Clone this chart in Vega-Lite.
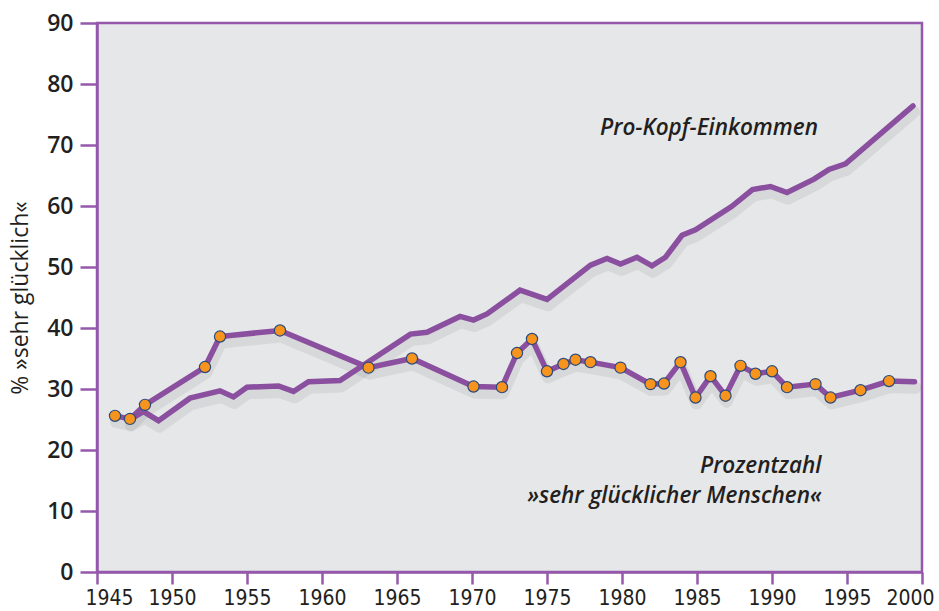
{
  "$schema": "https://vega.github.io/schema/vega-lite/v6.json",
  "width": 825,
  "height": 549,
  "autosize": {"type": "none"},
  "padding": {"left": 97, "top": 23, "right": 17, "bottom": 39},
  "background": "#ffffff",
  "config": {
    "view": {"fill": "#e6e7e9", "stroke": "#9558ab", "strokeWidth": 2.5},
    "axis": {
      "grid": false,
      "domainColor": "#9558ab",
      "domainWidth": 2.5,
      "tickColor": "#9558ab",
      "tickWidth": 2.5,
      "labelColor": "#231f20",
      "titleColor": "#231f20"
    }
  },
  "datasets": {
    "series": [
      {"series": "gluecklich", "year": 1946.2, "value": 25.6},
      {"series": "gluecklich", "year": 1947.2, "value": 25.1},
      {"series": "gluecklich", "year": 1948.2, "value": 27.4},
      {"series": "gluecklich", "year": 1952.2, "value": 33.6},
      {"series": "gluecklich", "year": 1953.2, "value": 38.6},
      {"series": "gluecklich", "year": 1957.2, "value": 39.6},
      {"series": "gluecklich", "year": 1963.1, "value": 33.5},
      {"series": "gluecklich", "year": 1966.0, "value": 35.0},
      {"series": "gluecklich", "year": 1970.1, "value": 30.4},
      {"series": "gluecklich", "year": 1972.0, "value": 30.3},
      {"series": "gluecklich", "year": 1973.0, "value": 35.9},
      {"series": "gluecklich", "year": 1974.0, "value": 38.2},
      {"series": "gluecklich", "year": 1975.0, "value": 32.9},
      {"series": "gluecklich", "year": 1976.1, "value": 34.1},
      {"series": "gluecklich", "year": 1976.9, "value": 34.8},
      {"series": "gluecklich", "year": 1977.9, "value": 34.4},
      {"series": "gluecklich", "year": 1979.9, "value": 33.5},
      {"series": "gluecklich", "year": 1981.9, "value": 30.8},
      {"series": "gluecklich", "year": 1982.8, "value": 30.9},
      {"series": "gluecklich", "year": 1983.9, "value": 34.4},
      {"series": "gluecklich", "year": 1984.9, "value": 28.6},
      {"series": "gluecklich", "year": 1985.9, "value": 32.1},
      {"series": "gluecklich", "year": 1986.9, "value": 28.9},
      {"series": "gluecklich", "year": 1987.9, "value": 33.8},
      {"series": "gluecklich", "year": 1988.9, "value": 32.5},
      {"series": "gluecklich", "year": 1990.0, "value": 32.9},
      {"series": "gluecklich", "year": 1991.0, "value": 30.3},
      {"series": "gluecklich", "year": 1992.9, "value": 30.8},
      {"series": "gluecklich", "year": 1993.9, "value": 28.6},
      {"series": "gluecklich", "year": 1995.9, "value": 29.8},
      {"series": "gluecklich", "year": 1997.8, "value": 31.3},
      {"series": "gluecklich", "year": 1999.5, "value": 31.2},
      {"series": "einkommen", "year": 1947.2, "value": 25.0},
      {"series": "einkommen", "year": 1948.1, "value": 26.3},
      {"series": "einkommen", "year": 1949.1, "value": 24.8},
      {"series": "einkommen", "year": 1951.2, "value": 28.5},
      {"series": "einkommen", "year": 1953.2, "value": 29.7},
      {"series": "einkommen", "year": 1954.1, "value": 28.7},
      {"series": "einkommen", "year": 1955.0, "value": 30.3},
      {"series": "einkommen", "year": 1957.1, "value": 30.5},
      {"series": "einkommen", "year": 1958.1, "value": 29.6},
      {"series": "einkommen", "year": 1959.1, "value": 31.2},
      {"series": "einkommen", "year": 1961.2, "value": 31.4},
      {"series": "einkommen", "year": 1965.9, "value": 39.0},
      {"series": "einkommen", "year": 1967.0, "value": 39.3},
      {"series": "einkommen", "year": 1969.2, "value": 41.9},
      {"series": "einkommen", "year": 1970.1, "value": 41.3},
      {"series": "einkommen", "year": 1971.0, "value": 42.3},
      {"series": "einkommen", "year": 1973.2, "value": 46.2},
      {"series": "einkommen", "year": 1975.0, "value": 44.7},
      {"series": "einkommen", "year": 1977.9, "value": 50.3},
      {"series": "einkommen", "year": 1979.0, "value": 51.4},
      {"series": "einkommen", "year": 1979.9, "value": 50.5},
      {"series": "einkommen", "year": 1981.0, "value": 51.6},
      {"series": "einkommen", "year": 1982.0, "value": 50.2},
      {"series": "einkommen", "year": 1982.9, "value": 51.6},
      {"series": "einkommen", "year": 1984.0, "value": 55.2},
      {"series": "einkommen", "year": 1984.9, "value": 56.1},
      {"series": "einkommen", "year": 1987.3, "value": 59.9},
      {"series": "einkommen", "year": 1988.7, "value": 62.7},
      {"series": "einkommen", "year": 1989.9, "value": 63.2},
      {"series": "einkommen", "year": 1991.0, "value": 62.2},
      {"series": "einkommen", "year": 1992.8, "value": 64.4},
      {"series": "einkommen", "year": 1993.8, "value": 66.0},
      {"series": "einkommen", "year": 1994.9, "value": 66.9},
      {"series": "einkommen", "year": 1999.4, "value": 76.4}
    ],
    "labels": [
      {"text": "Pro-Kopf-Einkommen", "year": 1985.8, "value": 71.6, "kind": "center"},
      {"text": "Prozentzahl", "year": 1993.3, "value": 16.2, "kind": "right"},
      {"text": "»sehr glücklicher Menschen«", "year": 1993.3, "value": 11.3, "kind": "right"}
    ]
  },
  "layer": [
    {
      "data": {"name": "series"},
      "mark": {"type": "line", "color": "#555555", "opacity": 0.1, "strokeWidth": 12, "yOffset": 6, "xOffset": 1, "strokeJoin": "round", "strokeCap": "round"},
      "encoding": {
        "x": {"field": "year", "type": "quantitative", "scale": {"domain": [1945, 2000], "nice": false, "zero": false},
          "axis": {"values": [1945, 1950, 1955, 1960, 1965, 1970, 1975, 1980, 1985, 1990, 1995, 2000], "format": "d", "title": null, "tickSize": 12, "labelPadding": 3, "labelFont": "DejaVu Sans Condensed, Liberation Sans, sans-serif", "labelFontSize": 21, "labelFlush": true, "labelFlushOffset": 12}},
        "y": {"field": "value", "type": "quantitative", "scale": {"domain": [0, 90], "nice": false},
          "axis": {"values": [0, 10, 20, 30, 40, 50, 60, 70, 80, 90], "title": "% »sehr glücklich«", "titleFont": "Open Sans", "titleFontSize": 23, "titleFontWeight": "normal", "titlePadding": 14, "tickSize": 17, "labelPadding": 7, "labelFont": "Open Sans", "labelFontSize": 23, "labelFontWeight": 600}},
        "detail": {"field": "series", "type": "nominal"}
      }
    },
    {
      "data": {"name": "series"},
      "mark": {"type": "line", "color": "#8a4f9f", "strokeWidth": 5.5, "strokeJoin": "miter", "strokeCap": "round"},
      "encoding": {
        "x": {"field": "year", "type": "quantitative"},
        "y": {"field": "value", "type": "quantitative"},
        "detail": {"field": "series", "type": "nominal"}
      }
    },
    {
      "data": {"name": "series"},
      "transform": [{"filter": "datum.series == 'gluecklich' && datum.year < 1999"}],
      "mark": {"type": "point", "filled": true, "fill": "#f7941d", "stroke": "#2b4a7c", "strokeWidth": 1.2, "size": 125, "opacity": 1},
      "encoding": {
        "x": {"field": "year", "type": "quantitative"},
        "y": {"field": "value", "type": "quantitative"}
      }
    },
    {
      "data": {"name": "labels"},
      "transform": [{"filter": "datum.kind == 'center'"}],
      "mark": {"type": "text", "align": "center", "baseline": "alphabetic", "font": "Open Sans", "fontStyle": "italic", "fontWeight": 600, "fontSize": 22.5, "color": "#231f20"},
      "encoding": {
        "x": {"field": "year", "type": "quantitative"},
        "y": {"field": "value", "type": "quantitative"},
        "text": {"field": "text"}
      }
    },
    {
      "data": {"name": "labels"},
      "transform": [{"filter": "datum.kind == 'right'"}],
      "mark": {"type": "text", "align": "right", "baseline": "alphabetic", "font": "Open Sans", "fontStyle": "italic", "fontWeight": 600, "fontSize": 22.5, "color": "#231f20"},
      "encoding": {
        "x": {"field": "year", "type": "quantitative"},
        "y": {"field": "value", "type": "quantitative"},
        "text": {"field": "text"}
      }
    }
  ]
}
